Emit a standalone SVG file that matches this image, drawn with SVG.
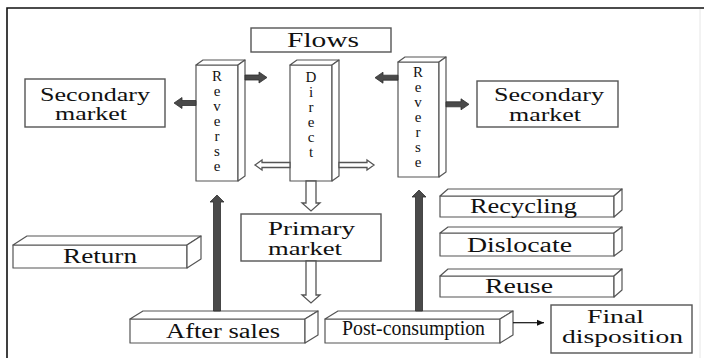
<svg xmlns="http://www.w3.org/2000/svg" width="704" height="358" viewBox="0 0 704 358">
<style>
.bx{fill:#fff;stroke:#555;stroke-width:1.4}
.f3{fill:#fff;stroke:#555;stroke-width:1.2;stroke-linejoin:round}
.t{font-family:"Liberation Serif","DejaVu Serif",serif;fill:#111;font-size:20px}
.t2{font-family:"Liberation Serif","DejaVu Serif",serif;fill:#111;font-size:18px}
.v{font-family:"Liberation Serif","DejaVu Serif",serif;fill:#111;font-size:15px;text-anchor:middle}
.da{fill:#4a4a4a;stroke:#2e2e2e;stroke-width:0.8;stroke-linejoin:miter}
.ha{fill:#fff;stroke:#555;stroke-width:1.3;stroke-linejoin:miter}
</style>
<defs>
<marker id="ah" markerWidth="8" markerHeight="8" refX="7" refY="4" orient="auto" markerUnits="userSpaceOnUse">
<path d="M0,1 L7,4 L0,7 Z" fill="#111"/>
</marker>
</defs>
<rect width="704" height="358" fill="#fff"/>
<path d="M7,358 V8 H704" fill="none" stroke="#111" stroke-width="1.6"/>
<line x1="700" y1="9" x2="700" y2="358" stroke="#e6e6e6" stroke-width="1"/>

<g id="flows"><rect class="bx" x="251" y="28" width="140" height="24"/><text class="t" x="287" y="46.5" font-size="19" textLength="72" lengthAdjust="spacingAndGlyphs">Flows</text></g>

<g id="secondary-left"><rect class="bx" x="25" y="79" width="140" height="48"/>
<text class="t2" x="40" y="100.5" textLength="110" lengthAdjust="spacingAndGlyphs">Secondary</text>
<text class="t2" x="55" y="120" textLength="72" lengthAdjust="spacingAndGlyphs">market</text></g>

<g id="secondary-right"><rect class="bx" x="477" y="81" width="141" height="46"/>
<text class="t2" x="494" y="101" textLength="110" lengthAdjust="spacingAndGlyphs">Secondary</text>
<text class="t2" x="509" y="120.5" textLength="72" lengthAdjust="spacingAndGlyphs">market</text></g>

<g id="reverse-left">
<rect class="f3" x="196" y="65" width="42" height="116"/>
<polygon class="f3" points="196,65 203,60 245,60 238,65"/>
<polygon class="f3" points="238,65 245,60 245,176 238,181"/>
<text class="v" x="217"><tspan x="217" y="81">R</tspan><tspan x="217" y="96">e</tspan><tspan x="217" y="111">v</tspan><tspan x="217" y="126">e</tspan><tspan x="217" y="141">r</tspan><tspan x="217" y="156">s</tspan><tspan x="217" y="171">e</tspan></text>
</g>

<g id="direct">
<rect class="f3" x="290" y="65" width="42" height="116"/>
<polygon class="f3" points="290,65 297,60 339,60 332,65"/>
<polygon class="f3" points="332,65 339,60 339,176 332,181"/>
<text class="v" x="311"><tspan x="311" y="81.5">D</tspan><tspan x="311" y="96.5">i</tspan><tspan x="311" y="111.5">r</tspan><tspan x="311" y="126.5">e</tspan><tspan x="311" y="141.5">c</tspan><tspan x="311" y="156.5">t</tspan></text>
</g>

<g id="reverse-right">
<rect class="f3" x="398" y="62" width="41" height="115"/>
<polygon class="f3" points="398,62 405,57 446,57 439,62"/>
<polygon class="f3" points="439,62 446,57 446,172 439,177"/>
<text class="v" x="418"><tspan x="418" y="76.5">R</tspan><tspan x="418" y="91.5">e</tspan><tspan x="418" y="106.5">v</tspan><tspan x="418" y="121.5">e</tspan><tspan x="418" y="136.5">r</tspan><tspan x="418" y="151.5">s</tspan><tspan x="418" y="166.5">e</tspan></text>
</g>

<g id="primary-market"><rect class="bx" x="241" y="214" width="140" height="47"/>
<text class="t2" x="268" y="235" textLength="87" lengthAdjust="spacingAndGlyphs">Primary</text>
<text class="t2" x="268" y="254.5" textLength="74" lengthAdjust="spacingAndGlyphs">market</text></g>

<g id="return">
<rect class="f3" x="13" y="245" width="174" height="23"/>
<polygon class="f3" points="13,245 27,236 201,236 187,245"/>
<polygon class="f3" points="187,245 201,236 201,259 187,268"/>
<text class="t" x="63" y="263" textLength="74" lengthAdjust="spacingAndGlyphs">Return</text>
</g>

<g id="after-sales">
<rect class="f3" x="130" y="319" width="175" height="24"/>
<polygon class="f3" points="130,319 143,311 318,311 305,319"/>
<polygon class="f3" points="305,319 318,311 318,335 305,343"/>
<text class="t" x="166" y="338" textLength="114" lengthAdjust="spacingAndGlyphs">After sales</text>
</g>

<g id="post-consumption">
<rect class="f3" x="325" y="319" width="175" height="24"/>
<polygon class="f3" points="325,319 338,311 513,311 500,319"/>
<polygon class="f3" points="500,319 513,311 513,335 500,343"/>
<text class="t" x="342" y="335" font-size="16" textLength="143" lengthAdjust="spacingAndGlyphs">Post-consumption</text>
</g>

<g id="recycling">
<rect class="f3" x="440" y="196" width="174" height="21"/>
<polygon class="f3" points="440,196 448,189 622,189 614,196"/>
<polygon class="f3" points="614,196 622,189 622,210 614,217"/>
<text class="t" x="470" y="213" textLength="107" lengthAdjust="spacingAndGlyphs">Recycling</text>
</g>

<g id="dislocate">
<rect class="f3" x="440" y="233" width="174" height="23"/>
<polygon class="f3" points="440,233 448,227 622,227 614,233"/>
<polygon class="f3" points="614,233 622,227 622,250 614,256"/>
<text class="t" x="467" y="251.5" textLength="105" lengthAdjust="spacingAndGlyphs">Dislocate</text>
</g>

<g id="reuse">
<rect class="f3" x="440" y="276" width="174" height="21"/>
<polygon class="f3" points="440,276 448,269 622,269 614,276"/>
<polygon class="f3" points="614,276 622,269 622,290 614,297"/>
<text class="t" x="485" y="293" textLength="68" lengthAdjust="spacingAndGlyphs">Reuse</text>
</g>

<g id="final-disposition"><rect class="bx" x="551" y="305" width="141" height="48"/>
<text class="t2" x="587" y="322.5" textLength="57" lengthAdjust="spacingAndGlyphs">Final</text>
<text class="t2" x="562" y="343" textLength="121" lengthAdjust="spacingAndGlyphs">disposition</text></g>

<g id="connectors">
<polygon class="da" points="245,75 259,75 259,72 267,77.5 259,83 259,80 245,80"/>
<polygon class="da" points="196,100.5 182,100.5 182,97.5 174,103 182,108.5 182,105.5 196,105.5"/>
<polygon class="da" points="398,75.2 383,75.2 383,72.2 375,77.7 383,83.2 383,80.2 398,80.2"/>
<polygon class="da" points="446,101.8 461,101.8 461,98.8 469,104.3 461,109.8 461,106.8 446,106.8"/>
<polygon class="da" points="213.5,311 213.5,202 210,202 217,195 224,202 220.5,202 220.5,311"/>
<polygon class="da" points="415.5,311 415.5,197 412,197 419,190 426,197 422.5,197 422.5,311"/>
<polygon class="ha" points="290,162.5 262,162.5 262,160 255,165 262,170 262,167.5 290,167.5"/>
<polygon class="ha" points="339,162.5 367,162.5 367,160 374,165 367,170 367,167.5 339,167.5"/>
<polygon class="ha" points="306,181 306,203 302,203 311,211 320,203 316,203 316,181"/>
<polygon class="ha" points="306,261 306,295 302,295 311,303 320,295 316,295 316,261"/>
<line x1="513" y1="322.7" x2="544" y2="322.7" stroke="#111" stroke-width="1.2" marker-end="url(#ah)"/>
</g>
</svg>
